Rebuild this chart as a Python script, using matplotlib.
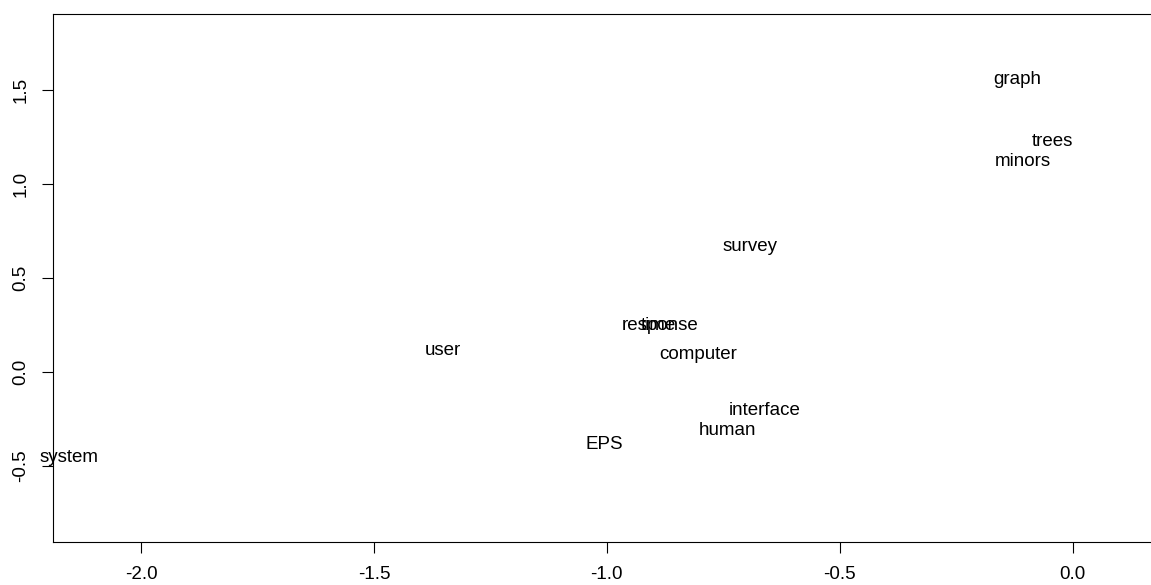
import numpy as np
from matplotlib import pyplot as plt

# terms and their coordinates
words = ["graph", "trees", "minors", "survey", "response", "time", "user",
         "computer", "interface", "human", "EPS", "system"]
xs = [-0.120, -0.043, -0.107, -0.692, -0.885, -0.889, -1.351,
      -0.803, -0.662, -0.741, -1.005, -2.155]
ys = [1.566, 1.237, 1.130, 0.678, 0.258, 0.258, 0.125,
      0.104, -0.194, -0.301, -0.375, -0.444]

xticks = [-2.0, -1.5, -1.0, -0.5, 0.0]
yticks = [-0.5, 0.0, 0.5, 1.0, 1.5]

plt.rcParams['font.family'] = ['Liberation Sans', 'DejaVu Sans']

fig = plt.figure(figsize=(11.51, 5.85), dpi=100)
ax = fig.add_axes([53/1151, 43/585, 1.0 - 53/1151 + 0.003, (542-14)/585])

for w, x, y in zip(words, xs, ys):
    ax.text(x, y, w, ha="center", va="center_baseline", fontsize=13.5, clip_on=False)

ax.set_xlim(-2.189, 0.1755)
ax.set_ylim(-0.904, 1.904)
ax.set_xticks(xticks)
ax.set_xticklabels(["%.1f" % t for t in xticks])
ax.set_yticks(yticks)
ax.set_yticklabels(["%.1f" % t for t in yticks], rotation=90, va="center")
ax.tick_params(labelsize=13.5, length=8, width=0.8, pad=9, color="black")
for s in ax.spines.values():
    s.set_linewidth(0.8)
    s.set_color("black")

fig.savefig("out.png", dpi=100)
